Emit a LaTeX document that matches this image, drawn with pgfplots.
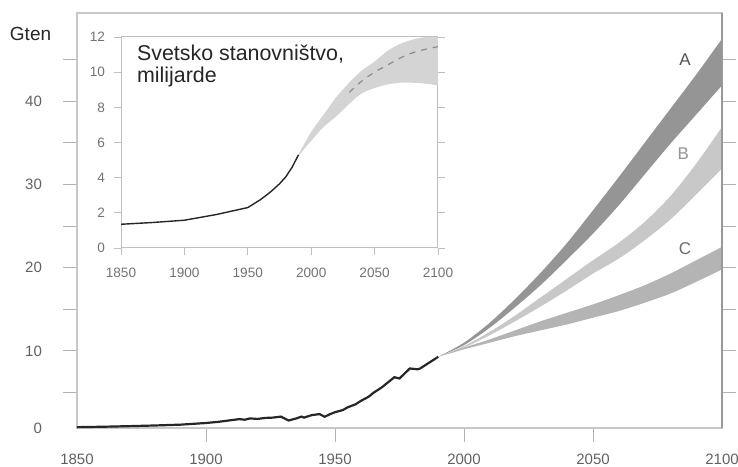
\documentclass[border=0pt]{standalone}
\usepackage{fontspec}
\setmainfont{Liberation Sans}
\usepackage{pgfplots}
\pgfplotsset{compat=1.18}
\usepgfplotslibrary{fillbetween}
\definecolor{bandA}{HTML}{959595}
\definecolor{bandB}{HTML}{C8C8C8}
\definecolor{bandC}{HTML}{B4B4B4}
\definecolor{popband}{HTML}{D4D4D4}
\begin{document}
\begin{tikzpicture}
\begin{axis}[
  name=main, at={(0,0)}, anchor=south west,
  scale only axis, width=322.5pt, height=207.5pt,
  xmin=1850, xmax=2100, ymin=0.75, ymax=50.6,
  clip=false,
  axis line style={draw=black!22, line width=0.6pt},
  xtick={1900,1950,2000,2050},
  extra x ticks={1850,2100},
  extra x tick style={major tick style={draw=none}},
  ytick={10,20,30,40},
  minor ytick={5,15,25,35,45},
  extra y ticks={0.75},
  extra y tick labels={0},
  extra y tick style={major tick style={draw=none}},
  tick align=outside,
  xtick pos=left, ytick pos=both, yticklabel pos=left,
  major tick length=7pt, minor tick length=7pt,
  every tick/.style={draw=black!30, line width=0.5pt},
  ticklabel style={font=\fontsize{7.5}{9}\selectfont, text=black!62},
  xticklabel style={yshift=-2.5pt},
  yticklabel style={xshift=-7pt},
  /pgf/number format/assume math mode=true,
  /pgf/number format/set thousands separator={},
]
% bands
\addplot[name path=Aup, draw=none, smooth] coordinates {(1990,9.3) (2000,11.0) (2010,13.4) (2020,16.3) (2030,19.5) (2040,23.0) (2050,26.9) (2060,30.9) (2070,35.0) (2080,39.1) (2090,43.2) (2100,47.5)};
\addplot[name path=Alo, draw=none, smooth] coordinates {(1990,9.3) (2000,10.7) (2010,12.8) (2020,15.3) (2030,18.0) (2040,21.0) (2050,24.1) (2060,27.5) (2070,31.2) (2080,34.9) (2090,38.4) (2100,41.9)};
\addplot[bandA, draw=none] fill between[of=Aup and Alo];
\addplot[name path=Bup, draw=none, smooth] coordinates {(1990,9.3) (2000,10.6) (2010,12.3) (2020,14.3) (2030,16.5) (2040,18.7) (2050,20.9) (2060,23.0) (2070,25.5) (2080,28.6) (2090,32.5) (2100,36.9)};
\addplot[name path=Blo, draw=none, smooth] coordinates {(1990,9.3) (2000,10.4) (2010,11.9) (2020,13.6) (2030,15.4) (2040,17.3) (2050,19.3) (2060,21.1) (2070,23.3) (2080,25.8) (2090,28.8) (2100,31.9)};
\addplot[bandB, draw=none] fill between[of=Bup and Blo];
\addplot[name path=Cup, draw=none, smooth] coordinates {(1990,9.3) (2000,10.4) (2010,11.4) (2020,12.5) (2030,13.6) (2040,14.6) (2050,15.6) (2060,16.7) (2070,17.9) (2080,19.3) (2090,20.9) (2100,22.5)};
\addplot[name path=Clo, draw=none, smooth] coordinates {(1990,9.3) (2000,10.2) (2010,11.0) (2020,11.8) (2030,12.5) (2040,13.2) (2050,14.0) (2060,14.8) (2070,15.8) (2080,16.9) (2090,18.3) (2100,19.8)};
\addplot[bandC, draw=none] fill between[of=Cup and Clo];
% historical
\addplot[black!85, line width=1.1pt] coordinates {
(1850,0.85) (1860,0.9) (1870,0.97) (1880,1.05) (1890,1.15) (1900,1.35) (1905,1.5) (1910,1.7) (1913,1.82) (1915,1.74) (1917,1.9) (1920,1.84) (1923,1.96) (1926,2.0) (1929,2.12) (1932,1.65) (1935,1.9) (1937,2.12) (1938,2.0) (1941,2.3) (1944,2.42) (1946,2.1) (1948,2.4) (1950,2.65) (1953,2.9) (1955,3.25) (1958,3.6) (1960,4.0) (1963,4.5) (1965,5.0) (1968,5.6) (1970,6.1) (1973,6.85) (1975,6.7) (1977,7.3) (1979,7.9) (1982,7.8) (1983,7.9) (1986,8.5) (1988,8.9) (1990,9.3)};
\draw[black!40, line width=0.9pt] (rel axis cs:1,0) -- (rel axis cs:1,1);
\node[font=\fontsize{9.5}{11}\selectfont, text=black!85] at (axis cs:1832,48.1) {Gten};
\node[font=\fontsize{8.5}{10}\selectfont, text=black!68] at (axis cs:2085.7,45.0) {A};
\node[font=\fontsize{8.5}{10}\selectfont, text=black!42] at (axis cs:2085,33.7) {B};
\node[font=\fontsize{8.5}{10}\selectfont, text=black!58] at (axis cs:2085.7,22.3) {C};
\end{axis}
\begin{axis}[
  at={(22pt,90pt)}, anchor=south west,
  scale only axis, width=158.5pt, height=105.5pt,
  xmin=1850, xmax=2100, ymin=0, ymax=12,
  axis background/.style={fill=white},
  axis line style={draw=black!25, line width=0.5pt},
  xtick={1850,1900,...,2100},
  ytick={0,2,...,12},
  tick align=outside,
  xtick pos=left, ytick pos=both, yticklabel pos=left,
  major tick length=3.5pt,
  every tick/.style={draw=black!25, line width=0.4pt},
  ticklabel style={font=\fontsize{6.8}{8}\selectfont, text=black!55},
  xticklabel style={yshift=-3pt},
  yticklabel style={xshift=-1pt},
  /pgf/number format/assume math mode=true,
  /pgf/number format/set thousands separator={},
]
\addplot[name path=Pup, draw=none, smooth] coordinates {(1988,5.07) (2000,6.6) (2010,7.6) (2020,8.6) (2030,9.4) (2040,10.1) (2050,10.6) (2060,11.2) (2070,11.6) (2080,11.85) (2090,12.0) (2100,12.0)};
\addplot[name path=Plo, draw=none, smooth] coordinates {(1988,5.07) (2000,6.1) (2010,6.9) (2020,7.5) (2030,8.2) (2040,8.8) (2050,9.1) (2060,9.3) (2070,9.4) (2080,9.4) (2090,9.35) (2100,9.25)};
\addplot[popband, draw=none] fill between[of=Pup and Plo];
\addplot[black!45, dashed, line width=0.6pt, smooth] coordinates {(2030,8.85) (2040,9.5) (2050,10.0) (2060,10.4) (2070,10.8) (2080,11.1) (2090,11.3) (2100,11.45)};
\addplot[black!85, line width=0.7pt] coordinates {(1850,1.35) (1875,1.45) (1900,1.58) (1925,1.9) (1950,2.3) (1960,2.75) (1967.5,3.16) (1975,3.65) (1980,4.05) (1985,4.6) (1990,5.3)};
\node[anchor=north west, inner sep=0pt, align=left, font=\fontsize{10.7}{11}\selectfont, text=black!85] at (rel axis cs:0.0495,0.965) {Svetsko stanovništvo,\\milijarde};
\end{axis}
\pgfresetboundingbox
\useasboundingbox (-38.5pt,-19pt) rectangle (330.5pt,214pt);
\end{tikzpicture}
\end{document}
